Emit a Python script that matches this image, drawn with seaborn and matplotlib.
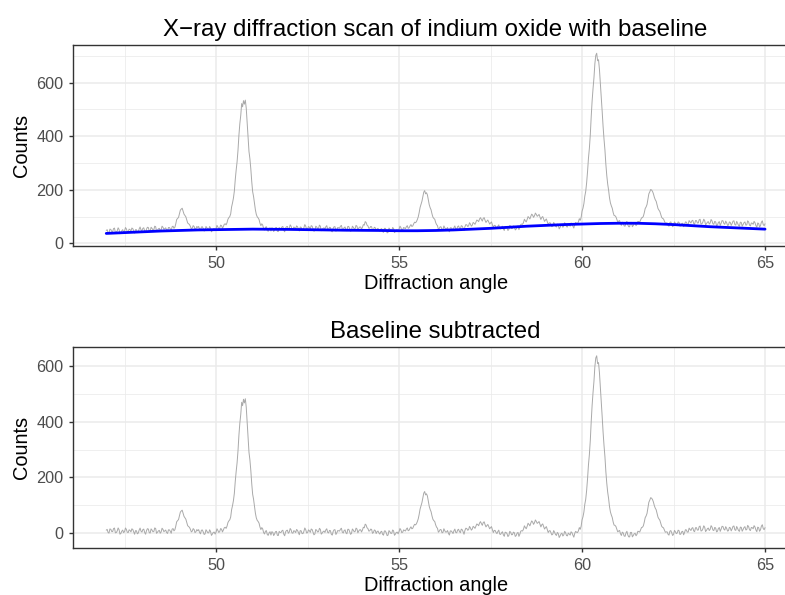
import numpy as np
import pandas as pd
import matplotlib
matplotlib.use("Agg")
import matplotlib.pyplot as plt
from matplotlib.ticker import FixedLocator, MultipleLocator
import seaborn as sns

# ---------------- data ----------------
scan_start = 47.0          # first diffraction angle of the scan
scan_end = 65.0            # last diffraction angle of the scan
counts = [
    48, 51, 40, 38, 53, 52, 44, 44, 55, 57, 40, 41, 47, 58, 52, 36, 39, 47, 51, 42,
    46, 59, 54, 44, 43, 53, 51, 46, 57, 55, 46, 38, 51, 51, 40, 43, 54, 61, 50, 47,
    56, 58, 46, 40, 53, 60, 59, 46, 45, 60, 56, 50, 51, 64, 62, 45, 49, 54, 56, 46,
    51, 64, 60, 52, 55, 58, 49, 46, 59, 59, 54, 47, 62, 64, 56, 60, 73, 89, 93, 97,
    110, 124, 128, 131, 120, 109, 104, 99, 87, 76, 73, 70, 63, 54, 57, 66, 63, 52, 55, 63,
    59, 63, 53, 48, 61, 62, 55, 46, 48, 63, 58, 52, 52, 63, 57, 43, 48, 54, 55, 48,
    55, 67, 61, 54, 57, 68, 66, 56, 63, 71, 73, 69, 77, 90, 96, 100, 110, 136, 151, 169,
    195, 238, 274, 305, 348, 404, 447, 478, 522, 510, 533, 520, 535, 505, 451, 392, 343, 316, 278, 231,
    193, 175, 151, 125, 108, 99, 95, 89, 75, 66, 73, 68, 55, 50, 60, 62, 48, 45, 54, 58,
    46, 58, 56, 44, 50, 58, 59, 45, 44, 59, 55, 55, 61, 63, 49, 43, 57, 62, 63, 52,
    56, 69, 64, 53, 52, 61, 59, 54, 65, 62, 54, 46, 61, 60, 50, 50, 58, 70, 64, 52,
    53, 63, 60, 54, 66, 64, 55, 45, 48, 64, 61, 55, 56, 68, 64, 47, 51, 56, 58, 53,
    62, 66, 53, 51, 60, 59, 46, 43, 56, 62, 62, 45, 51, 59, 58, 57, 64, 67, 53, 50,
    59, 61, 50, 47, 63, 63, 55, 45, 48, 64, 60, 54, 55, 67, 64, 50, 57, 61, 61, 53,
    60, 70, 68, 81, 78, 68, 65, 56, 57, 63, 62, 48, 51, 60, 58, 47, 54, 56, 49, 45,
    53, 55, 44, 41, 56, 56, 49, 39, 41, 57, 53, 47, 47, 59, 56, 40, 44, 50, 51, 45,
    53, 64, 59, 49, 51, 59, 57, 55, 62, 66, 56, 58, 65, 70, 63, 65, 73, 79, 77, 81,
    89, 99, 115, 134, 145, 157, 175, 191, 197, 185, 189, 181, 162, 144, 133, 125, 110, 98, 93, 90,
    78, 70, 66, 52, 56, 62, 61, 50, 52, 65, 58, 53, 54, 59, 49, 43, 58, 58, 54, 49,
    59, 65, 53, 52, 62, 65, 57, 53, 66, 64, 57, 48, 62, 70, 69, 63, 65, 77, 72, 64,
    68, 78, 75, 71, 79, 87, 85, 81, 91, 96, 89, 83, 93, 96, 86, 78, 83, 87, 80, 72,
    76, 80, 70, 59, 67, 67, 60, 56, 64, 69, 55, 54, 60, 64, 53, 48, 63, 62, 58, 48,
    52, 67, 64, 55, 56, 65, 63, 50, 53, 62, 65, 51, 59, 70, 72, 71, 78, 90, 84, 80,
    89, 100, 96, 91, 101, 109, 105, 97, 103, 113, 108, 101, 104, 108, 99, 89, 97, 100, 91, 82,
    87, 91, 81, 70, 76, 77, 70, 62, 65, 78, 72, 64, 61, 72, 68, 54, 60, 67, 70, 60,
    64, 77, 72, 62, 61, 71, 68, 64, 76, 73, 64, 57, 71, 78, 75, 74, 80, 92, 86, 97,
    120, 131, 148, 176, 194, 226, 268, 318, 355, 405, 473, 532, 578, 618, 671, 702, 710, 682, 686, 650,
    599, 552, 492, 436, 389, 349, 296, 254, 222, 199, 170, 151, 140, 131, 115, 104, 103, 99, 90, 80,
    83, 85, 73, 67, 79, 76, 65, 64, 76, 82, 69, 62, 62, 78, 78, 62, 67, 73, 75, 66,
    71, 82, 81, 79, 87, 95, 96, 101, 114, 130, 136, 145, 166, 185, 192, 201, 199, 194, 185, 172,
    163, 157, 144, 130, 124, 119, 108, 97, 93, 91, 83, 75, 76, 76, 67, 64, 78, 80, 72, 62,
    66, 80, 75, 68, 70, 80, 78, 64, 66, 74, 75, 62, 70, 80, 79, 71, 71, 85, 80, 76,
    84, 86, 74, 71, 85, 85, 76, 76, 88, 90, 72, 73, 79, 90, 85, 69, 73, 79, 81, 72,
    76, 89, 84, 73, 71, 82, 80, 66, 68, 78, 81, 67, 75, 85, 84, 74, 71, 83, 77, 67,
    68, 80, 78, 67, 74, 83, 84, 70, 68, 82, 75, 67, 64, 79, 78, 64, 70, 77, 80, 68,
    69, 84, 80, 68, 65, 76, 75, 71, 82, 77, 66, 60, 76, 74, 61, 66, 79, 84, 70, 66,
    73,
]
baseline_angle = [47.0, 47.5, 48.0, 48.5, 49.0, 49.5, 50.0, 50.5, 51.0, 51.5,
                  52.0, 52.5, 53.0, 53.5, 54.0, 54.5, 55.0, 55.5, 56.0, 56.5,
                  57.0, 57.5, 58.0, 58.5, 59.0, 59.5, 60.0, 60.5, 61.0, 61.5,
                  62.0, 62.5, 63.0, 63.5, 64.0, 64.5, 65.0]
baseline_counts = [37, 40, 43, 46, 48, 50, 51, 52, 53, 52.5,
                   52, 51, 50, 49, 48.5, 48, 47, 47, 48, 50,
                   53, 56, 60, 64, 67, 70, 72, 74, 75, 75,
                   73, 70, 66, 62, 59, 56, 53]
x_ticks = [50, 55, 60, 65]
y_ticks = [0, 200, 400, 600]
title_top = "X\u2212ray diffraction scan of indium oxide with baseline"
title_bottom = "Baseline subtracted"
x_label = "Diffraction angle"
y_label = "Counts"

# ---------------- derived tables ----------------
angle = np.linspace(scan_start, scan_end, len(counts))
counts_arr = np.asarray(counts, dtype=float)
net = counts_arr - np.interp(angle, baseline_angle, baseline_counts)
scan = pd.DataFrame({"angle": angle, "counts": counts_arr, "net": net})
base = pd.DataFrame({"angle": baseline_angle, "counts": baseline_counts})

# ---------------- style ----------------
sns.set_theme(style="white")
plt.rcParams["font.family"] = ["Liberation Sans", "DejaVu Sans"]

W, H = 785, 595
fig = plt.figure(figsize=(W / 100, H / 100), dpi=100)
fig.patch.set_facecolor("white")


def axes_px(left, top, right, bottom):
    return fig.add_axes([left / W, 1 - bottom / H, (right - left) / W, (bottom - top) / H])


ax1 = axes_px(73.3, 44.7, 798.0, 246.0)
ax2 = axes_px(73.3, 346.7, 798.0, 548.3)

GREY = "#A9A9A9"
sns.lineplot(data=scan, x="angle", y="counts", ax=ax1, color=GREY,
             linewidth=0.7, estimator=None)
sns.lineplot(data=base, x="angle", y="counts", ax=ax1, color="#0000FF",
             linewidth=2.0, estimator=None)
sns.lineplot(data=scan, x="angle", y="net", ax=ax2, color=GREY,
             linewidth=0.7, estimator=None)


def style(ax, ylim, title):
    ax.set_facecolor("white")
    ax.set_xlim(46.1, 65.9)
    ax.set_ylim(*ylim)
    ax.xaxis.set_major_locator(FixedLocator(x_ticks))
    ax.yaxis.set_major_locator(FixedLocator(y_ticks))
    ax.xaxis.set_minor_locator(MultipleLocator(2.5))
    ax.yaxis.set_minor_locator(MultipleLocator(100))
    ax.grid(True, which="major", color="#EBEBEB", linewidth=1.1)
    ax.grid(True, which="minor", color="#EBEBEB", linewidth=0.55)
    ax.set_axisbelow(True)
    for s in ax.spines.values():
        s.set_visible(True)
        s.set_color("#333333")
        s.set_linewidth(1.0)
    ax.tick_params(which="major", length=2.9, width=1.0, color="#333333",
                   labelcolor="#4D4D4D", labelsize=11.7, pad=4.3,
                   bottom=True, left=True)
    ax.tick_params(which="minor", length=0, bottom=False, left=False)
    ax.set_xlabel(x_label, fontsize=14.4, color="black", labelpad=2.0)
    ax.set_ylabel(y_label, fontsize=14.4, color="black", labelpad=3.6)
    ax.set_title(title, fontsize=17.3, color="black", pad=6.2)


style(ax1, (-10, 742), title_top)
style(ax2, (-54, 669), title_bottom)

fig.savefig("out.png", dpi=100, facecolor="white")
